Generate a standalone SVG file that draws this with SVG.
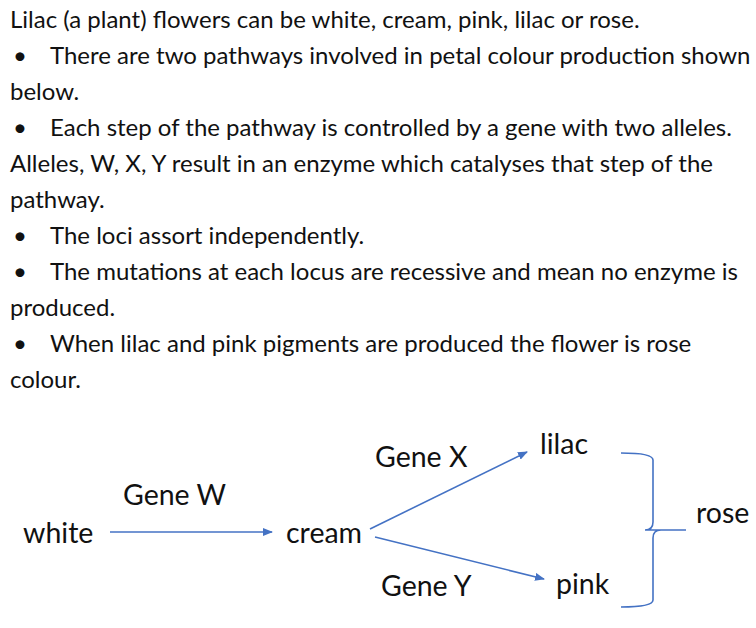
<svg xmlns="http://www.w3.org/2000/svg" width="756" height="628" viewBox="0 0 756 628">
<style>
text{font-family:Lato,"Open Sans",sans-serif;font-size:24px;fill:#111}
.d{font-size:28.5px}
.c{stroke:#4472C4;stroke-width:1.6;fill:none}
</style>
<defs><marker id="a" markerWidth="10" markerHeight="8" refX="9" refY="4" orient="auto" markerUnits="userSpaceOnUse"><path d="M0,0L10,4L0,8z" fill="#4472C4"/></marker></defs>
<rect width="756" height="628" fill="#fff"/>
<g id="intro">
<text x="10" y="28">Lilac (a plant) flowers can be white, cream, pink, lilac or rose.</text>
<text x="13" y="64">•</text><text x="50" y="64">There are two pathways involved in petal colour production shown</text>
<text x="10" y="100">below.</text>
<text x="13" y="136">•</text><text x="50" y="136">Each step of the pathway is controlled by a gene with two alleles.</text>
<text x="10" y="172">Alleles, W, X, Y result in an enzyme which catalyses that step of the</text>
<text x="10" y="208">pathway.</text>
<text x="13" y="244">•</text><text x="50" y="244">The loci assort independently.</text>
<text x="13" y="280">•</text><text x="50" y="280">The mutations at each locus are recessive and mean no enzyme is</text>
<text x="10" y="316">produced.</text>
<text x="13" y="352">•</text><text x="50" y="352">When lilac and pink pigments are produced the flower is rose</text>
<text x="10" y="388">colour.</text>
</g>
<g id="white"><text class="d" x="23" y="543">white</text></g>
<g id="cream"><text class="d" x="286" y="543">cream</text></g>
<g id="lilac"><text class="d" x="540" y="454">lilac</text></g>
<g id="pink"><text class="d" x="556" y="594">pink</text></g>
<g id="rose"><text class="d" x="696" y="523">rose</text></g>
<g id="labels">
<text class="d" x="123" y="505">Gene W</text>
<text class="d" x="375" y="467">Gene X</text>
<text class="d" x="381" y="596">Gene Y</text>
</g>
<g id="connectors">
<line class="c" x1="110" y1="532" x2="272" y2="532" marker-end="url(#a)"/>
<line class="c" x1="370" y1="529" x2="527" y2="452" marker-end="url(#a)"/>
<line class="c" x1="375" y1="537" x2="544" y2="579" marker-end="url(#a)"/>
<path class="c" d="M621,453 Q653,453 653,460 L653,522 Q653,530 645,530 L686,530 M653,538 Q653,530 661,530 M653,538 L653,600 Q653,607 621,607"/>
</g>
</svg>
